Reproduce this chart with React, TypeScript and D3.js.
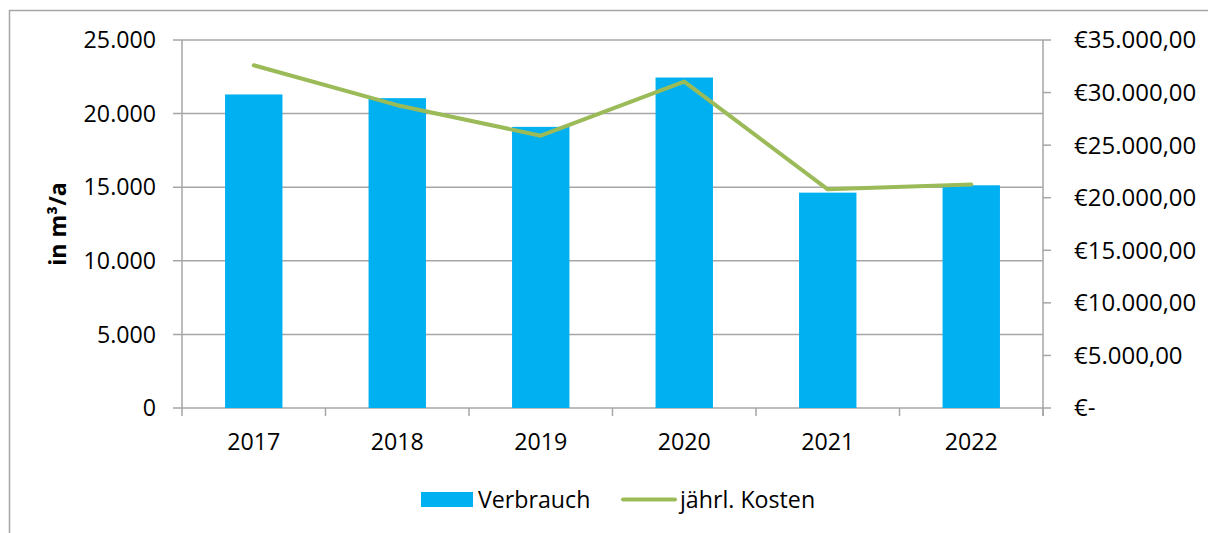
import React from "react";
import * as d3 from "d3";

const years = ["2017", "2018", "2019", "2020", "2021", "2022"];
const verbrauch = [21300, 21050, 19100, 22450, 14630, 15130];
const kosten = [32600, 28800, 25900, 31050, 20800, 21250];
const leftTicks = [0, 5000, 10000, 15000, 20000, 25000];
const rightTicks = [0, 5000, 10000, 15000, 20000, 25000, 30000, 35000];

const W = 1208;
const H = 533;
const left = 182;
const right = 1043;
const top = 40;
const bottom = 408;
const FONT = "'Open Sans', sans-serif";
const FS = 23.2;

const fmtLeft = (v: number) => (v === 0 ? "0" : d3.format(",")(v).replace(/,/g, "."));
const fmtRight = (v: number) =>
  v === 0 ? "€-" : "€" + d3.format(",.2f")(v).replace(/,/g, "#").replace(".", ",").replace(/#/g, ".");

export default function App() {
  const x = d3.scaleBand<string>().domain(years).range([left, right]).paddingInner(0.6).paddingOuter(0.3);
  const xc = d3.scaleBand<string>().domain(years).range([left, right]);
  const yL = d3.scaleLinear().domain([0, 25000]).range([bottom, top]);
  const yR = d3.scaleLinear().domain([0, 35000]).range([bottom, top]);
  const line = d3
    .line<number>()
    .x((_, i) => (xc(years[i]) as number) + xc.bandwidth() / 2)
    .y((d) => yR(d));
  const grid = "#a6a6a6";

  return (
    <svg
      width={W}
      height={H}
      style={{ position: "absolute", left: 0, top: 0, background: "#fff" }}
      fontFamily={FONT}
    >
      <rect x={9.5} y={10.5} width={W + 20} height={H + 20} fill="#fff" stroke="#a6a6a6" strokeWidth={1.5} />
      {leftTicks.map((t) => (
        <line key={"g" + t} x1={left - 9} x2={right} y1={yL(t)} y2={yL(t)} stroke={grid} strokeWidth={1.5} />
      ))}
      <line x1={left} x2={left} y1={top} y2={bottom + 8} stroke={grid} strokeWidth={1.5} />
      {years.map((y) => (
        <line
          key={"ct" + y}
          x1={(xc(y) as number) + xc.bandwidth()}
          x2={(xc(y) as number) + xc.bandwidth()}
          y1={bottom}
          y2={bottom + 8}
          stroke={grid}
          strokeWidth={1.5}
        />
      ))}
      <line x1={right} x2={right} y1={top} y2={bottom + 8} stroke={grid} strokeWidth={1.5} />
      {rightTicks.map((t) => (
        <line key={"rt" + t} x1={right} x2={right + 8} y1={yR(t)} y2={yR(t)} stroke={grid} strokeWidth={1.5} />
      ))}
      {verbrauch.map((v, i) => (
        <rect
          key={"b" + i}
          x={x(years[i]) as number}
          y={yL(v)}
          width={x.bandwidth()}
          height={bottom - yL(v)}
          fill="#00B0F0"
        />
      ))}
      <path
        d={line(kosten) as string}
        fill="none"
        stroke="#9BBB59"
        strokeWidth={4}
        strokeLinejoin="round"
        strokeLinecap="round"
      />
      {leftTicks.map((t) => (
        <text key={"ll" + t} x={156} y={yL(t)} dy="0.35em" textAnchor="end" fontSize={FS} fill="#000">
          {fmtLeft(t)}
        </text>
      ))}
      {rightTicks.map((t) => (
        <text key={"rl" + t} x={1074} y={yR(t)} dy="0.35em" textAnchor="start" fontSize={FS + 0.8} fill="#000">
          {fmtRight(t)}
        </text>
      ))}
      {years.map((y) => (
        <text
          key={"xl" + y}
          x={(xc(y) as number) + xc.bandwidth() / 2}
          y={442}
          dy="0.35em"
          textAnchor="middle"
          fontSize={FS}
          fill="#000"
        >
          {y}
        </text>
      ))}
      <text
        transform="translate(58,224) rotate(-90)"
        textAnchor="middle"
        dy="0.35em"
        fontSize={FS}
        fontWeight="bold"
        fill="#000"
      >
        in m³/a
      </text>
      <rect x={421} y={492} width={52} height={15} fill="#00B0F0" />
      <text x={478} y={499.5} dy="0.35em" fontSize={FS} fill="#000">
        Verbrauch
      </text>
      <line x1={623} x2={675} y1={499.5} y2={499.5} stroke="#9BBB59" strokeWidth={4} strokeLinecap="round" />
      <text x={680} y={499.5} dy="0.35em" fontSize={FS} fill="#000">
        jährl. Kosten
      </text>
    </svg>
  );
}
